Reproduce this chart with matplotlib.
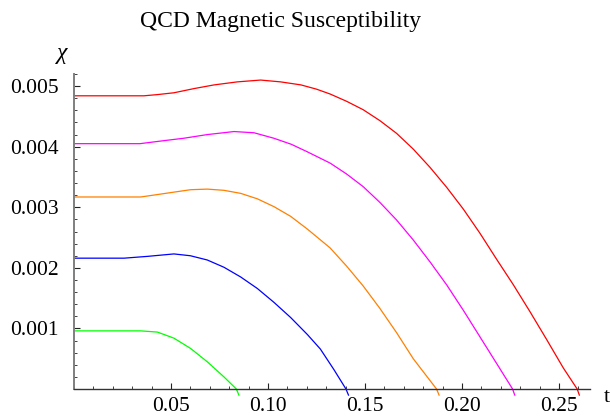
import numpy as np
import matplotlib
matplotlib.use('Agg')
import matplotlib.pyplot as plt
from matplotlib.ticker import MultipleLocator, FixedLocator

# values (t, chi)
t_red = [0, 0.020, 0.036, 0.043, 0.0515, 0.062, 0.0722, 0.0842, 0.0962, 0.1065, 0.117,
         0.125, 0.132, 0.1405, 0.1491, 0.1577, 0.1663, 0.1749, 0.1835, 0.1921, 0.2007, 0.2093,
         0.2179, 0.2265, 0.2350, 0.2436, 0.2522, 0.2594, 0.2605]
chi_red = [0.00484, 0.00484, 0.00484, 0.00486, 0.00489, 0.00496, 0.00502, 0.00507, 0.00510, 0.00507, 0.00502,
           0.00495, 0.00487, 0.00475, 0.00461, 0.00443, 0.00422, 0.00396, 0.00366, 0.00333, 0.00297, 0.00257,
           0.00214, 0.00172, 0.00128, 0.00082, 0.00035, 0.0, -0.0001]

t_magenta = [0, 0.034, 0.0464, 0.0567, 0.0687, 0.0825, 0.0928, 0.103, 0.112, 0.120, 0.132,
             0.1405, 0.1491, 0.1577, 0.1663, 0.1749, 0.1835, 0.1921, 0.2007, 0.2093, 0.2179,
             0.2261, 0.2272]
chi_magenta = [0.00405, 0.00405, 0.00410, 0.00414, 0.00420, 0.00425, 0.00423, 0.00414, 0.00404, 0.00392, 0.00373,
               0.00355, 0.00334, 0.00308, 0.00279, 0.00246, 0.00210, 0.00172, 0.00130, 0.00086, 0.00042,
               0.0, -0.0001]

t_orange = [0, 0.0344, 0.043, 0.0515, 0.0601, 0.0687, 0.0773, 0.0859, 0.0945, 0.1031, 0.1117,
            0.1203, 0.132, 0.1405, 0.1491, 0.1577, 0.1663, 0.1749, 0.1869, 0.1882]
chi_orange = [0.00317, 0.00317, 0.00321, 0.00325, 0.00329, 0.00330, 0.00328, 0.00323, 0.00314, 0.00301, 0.00285,
              0.00264, 0.00233, 0.00203, 0.00170, 0.00133, 0.00093, 0.00050, 0.0, -0.0001]

t_blue = [0, 0.0258, 0.038, 0.0515, 0.060, 0.0687, 0.0773, 0.0859, 0.0945, 0.1031,
          0.1117, 0.1203, 0.127, 0.134, 0.1402, 0.1415]
chi_blue = [0.00216, 0.00216, 0.00219, 0.00223, 0.00220, 0.00213, 0.00201, 0.00185, 0.00166, 0.00143,
            0.00118, 0.00090, 0.00066, 0.00032, 0.0, -0.0001]

t_green = [0, 0.0344, 0.043, 0.0515, 0.0601, 0.0687, 0.0773, 0.0837, 0.0850]
chi_green = [0.00096, 0.00096, 0.00094, 0.00084, 0.00067, 0.00045, 0.00020, 0.0, -0.0001]

x_ticks = [0.05, 0.10, 0.15, 0.20, 0.25]
y_ticks = [0.001, 0.002, 0.003, 0.004, 0.005]

plt.rcParams['font.family'] = ['Liberation Serif', 'DejaVu Serif']

fig = plt.figure(figsize=(6.1, 4.19), dpi=100)
# axes box: y-axis at x=74px, x-axis (chi=0) at y=389px
ax = fig.add_axes([74 / 610, (419 - 396.3) / 419, 516 / 610, (396.3 - 74) / 419])

lw = 0.9
ax.plot(t_green, chi_green, color='#00ff00', lw=lw, clip_on=False)
ax.plot(t_blue, chi_blue, color='#0000ff', lw=lw, clip_on=False)
ax.plot(t_orange, chi_orange, color='#ff8000', lw=lw, clip_on=False)
ax.plot(t_magenta, chi_magenta, color='#ff00ff', lw=lw, clip_on=False)
ax.plot(t_red, chi_red, color='#ff0000', lw=lw, clip_on=False)

ax.set_xlim(0, 0.266)
ax.set_ylim(-0.00012, 0.0052)

ax.spines['top'].set_visible(False)
ax.spines['right'].set_visible(False)
ax.spines['bottom'].set_position(('data', 0))
ax.spines['left'].set_color('#7f7f7f')
ax.spines['left'].set_linewidth(1.4)
ax.spines['bottom'].set_color('#333333')
ax.spines['bottom'].set_linewidth(1.0)
ax.spines['left'].set_bounds(0, 0.0052)

ax.xaxis.set_major_locator(FixedLocator(x_ticks))
ax.xaxis.set_minor_locator(MultipleLocator(0.01))
ax.yaxis.set_major_locator(FixedLocator(y_ticks))
ax.yaxis.set_minor_locator(FixedLocator(np.arange(1, 27) * 0.0002))
ax.set_xticklabels([f'{v:.2f}' for v in x_ticks])
ax.set_yticklabels([f'{v:.3f}' for v in y_ticks])

ax.tick_params(which='major', direction='in', length=4, width=0.8, color='#222222',
               labelsize=15.5, pad=6)
ax.tick_params(which='minor', direction='in', length=2.5, width=0.6, color='#222222')
ax.tick_params(axis='y', which='major', pad=11)

fig.text(281 / 610, 1 - 22 / 419, 'QCD Magnetic Susceptibility', ha='center', va='center',
         fontsize=17)
fig.text(62 / 610, 1 - 54 / 419, 'χ', ha='center', va='center', fontsize=17, style='italic')
fig.text(607 / 610, 1 - 397 / 419, 't', ha='center', va='center', fontsize=16)

fig.savefig('out.png', dpi=100)
